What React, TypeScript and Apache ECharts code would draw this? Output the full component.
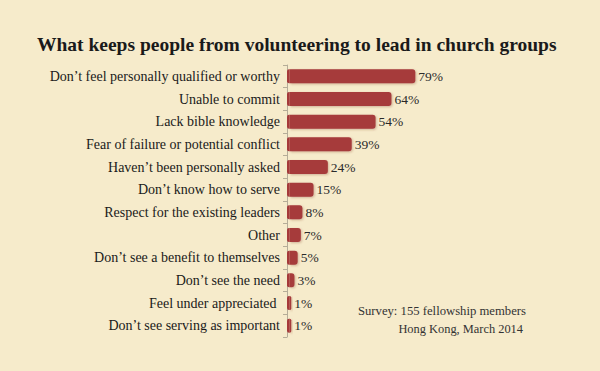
import React, { useEffect, useRef } from "react";
import * as echarts from "echarts";

const categories = [
  "Don’t feel personally qualified or worthy",
  "Unable to commit",
  "Lack bible knowledge",
  "Fear of failure or potential conflict",
  "Haven’t been personally asked",
  "Don’t know how to serve",
  "Respect for the existing leaders",
  "Other",
  "Don’t see a benefit to themselves",
  "Don’t see the need",
  "Feel under appreciated ",
  "Don’t see serving as important",
];
const values = [79, 64, 54, 39, 24, 15, 8, 7, 5, 3, 1, 1];
const title = "What keeps people from volunteering to lead in church groups";
const note = ["Survey: 155 fellowship members", "Hong Kong, March 2014"];

export default function App() {
  const ref = useRef<HTMLDivElement>(null);
  useEffect(() => {
    const chart = echarts.init(ref.current!, null, { renderer: "svg" });
    const font = "'Liberation Serif', 'DejaVu Serif', serif";
    const barColor = "#a63a3a";
    chart.setOption({
      animation: false,
      backgroundColor: "#f6ebcb",
      title: {
        text: title,
        left: 32,
        top: 29,
        textStyle: { fontFamily: font, fontSize: 19.5, fontWeight: "bold", color: "#1a1a1a" },
      },
      graphic: [
        {
          type: "text",
          right: 74,
          top: 304,
          style: { text: note[0], font: `12.7px ${font}`, fill: "#333" },
        },
        {
          type: "text",
          right: 77,
          top: 323,
          style: { text: note[1], font: `12.4px ${font}`, fill: "#333" },
        },
      ],
      grid: { left: 287, right: 154, top: 65, bottom: 34 },
      xAxis: { type: "value", min: 0, max: 100, show: false },
      yAxis: {
        type: "category",
        data: categories,
        inverse: true,
        offset: 2,
        axisLine: { show: true, lineStyle: { color: "#b5ad98", width: 1 } },
        axisTick: { show: true, length: 4, lineStyle: { color: "#b5ad98" } },
        axisLabel: { fontFamily: font, fontSize: 14, color: "#1a1a1a", margin: 5 },
      },
      series: [
        {
          type: "bar",
          stack: "s",
          data: values.map(() => 1.7),
          barWidth: 14,
          silent: true,
          itemStyle: { color: barColor, borderRadius: [2, 0, 0, 2] },
        },
        {
          type: "bar",
          stack: "s",
          data: values,
          barWidth: 14,
          itemStyle: {
            color: barColor,
            borderRadius: [0, 3, 3, 0],
            shadowColor: "rgba(120,40,20,0.3)",
            shadowBlur: 2,
            shadowOffsetX: 1,
            shadowOffsetY: 1,
          },
          label: {
            show: true,
            position: "right",
            distance: 3,
            formatter: "{c}%",
            fontFamily: font,
            fontSize: 13.5,
            color: "#2a2a2a",
          },
        },
      ],
    });
    return () => chart.dispose();
  }, []);
  return (
    <div
      ref={ref}
      style={{ width: 600, height: 371, position: "absolute", left: 0, top: 0 }}
    />
  );
}
